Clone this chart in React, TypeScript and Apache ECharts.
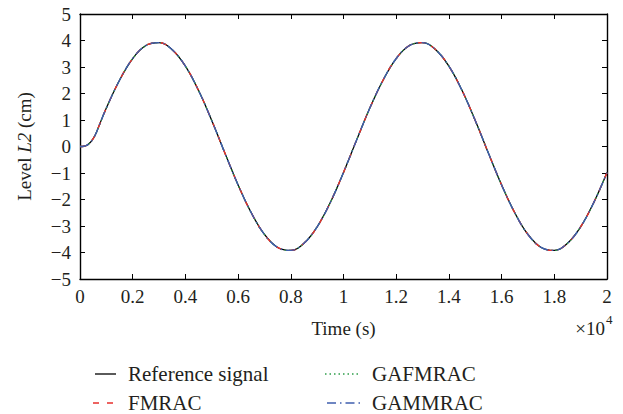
import React, { useEffect, useRef } from "react";
import * as echarts from "echarts";

// Time in units of 10^4 s
const timeTicks = [0, 0.2, 0.4, 0.6, 0.8, 1, 1.2, 1.4, 1.6, 1.8, 2];
const time = [
  0, 0.015, 0.03, 0.045, 0.06, 0.075, 0.1, 0.15, 0.2, 0.25, 0.3, 0.35, 0.4, 0.45,
  0.5, 0.55, 0.6, 0.65, 0.7, 0.75, 0.8, 0.85, 0.9, 0.95, 1.0, 1.05, 1.1, 1.15,
  1.2, 1.25, 1.3, 1.35, 1.4, 1.45, 1.5, 1.55, 1.6, 1.65, 1.7, 1.75, 1.8, 1.85,
  1.9, 1.95, 2.0,
];
const referenceSignal = [
  0, 0.01, 0.07, 0.22, 0.48, 0.85, 1.45, 2.5, 3.32, 3.81, 3.92, 3.65, 3.03, 2.11,
  0.98, -0.25, -1.45, -2.5, -3.32, -3.81, -3.92, -3.65, -3.03, -2.11, -0.98,
  0.25, 1.45, 2.5, 3.32, 3.81, 3.92, 3.65, 3.03, 2.11, 0.98, -0.25, -1.45, -2.5,
  -3.32, -3.81, -3.92, -3.65, -3.03, -2.11, -0.98,
];
const fmrac = [
  0, 0.01, 0.07, 0.22, 0.48, 0.85, 1.45, 2.5, 3.32, 3.81, 3.92, 3.65, 3.03, 2.11,
  0.98, -0.25, -1.45, -2.5, -3.32, -3.81, -3.92, -3.65, -3.03, -2.11, -0.98,
  0.25, 1.45, 2.5, 3.32, 3.81, 3.92, 3.65, 3.03, 2.11, 0.98, -0.25, -1.45, -2.5,
  -3.32, -3.81, -3.92, -3.65, -3.03, -2.11, -0.98,
];
const gafmrac = [
  0, 0.01, 0.07, 0.22, 0.48, 0.85, 1.45, 2.5, 3.32, 3.81, 3.92, 3.65, 3.03, 2.11,
  0.98, -0.25, -1.45, -2.5, -3.32, -3.81, -3.92, -3.65, -3.03, -2.11, -0.98,
  0.25, 1.45, 2.5, 3.32, 3.81, 3.92, 3.65, 3.03, 2.11, 0.98, -0.25, -1.45, -2.5,
  -3.32, -3.81, -3.92, -3.65, -3.03, -2.11, -0.98,
];
const gammrac = [
  0, 0.01, 0.07, 0.22, 0.48, 0.85, 1.45, 2.5, 3.32, 3.81, 3.92, 3.65, 3.03, 2.11,
  0.98, -0.25, -1.45, -2.5, -3.32, -3.81, -3.92, -3.65, -3.03, -2.11, -0.98,
  0.25, 1.45, 2.5, 3.32, 3.81, 3.92, 3.65, 3.03, 2.11, 0.98, -0.25, -1.45, -2.5,
  -3.32, -3.81, -3.92, -3.65, -3.03, -2.11, -0.98,
];
const seriesNames = ["Reference signal", "FMRAC", "GAFMRAC", "GAMMRAC"];

const FONT = "'Liberation Serif', 'DejaVu Serif', serif";
const TXT = "#231f20";
const COLORS = ["#000000", "#e8302e", "#2e9e4a", "#3f5fae"];
const DASHES: any[] = ["solid", [6, 8], [1.5, 3], [9, 4, 1.5, 4]];

const pair = (ys: number[]) => time.map((t, i) => [t, ys[i]]);

export default function App() {
  const ref = useRef<HTMLDivElement>(null);
  useEffect(() => {
    if (!ref.current) return;
    const chart = echarts.init(ref.current, undefined, { renderer: "svg" });
    const axisLine = { onZero: false, lineStyle: { color: "#000", width: 1.4 } };
    const tick = { show: true, inside: true, length: 5, lineStyle: { color: "#000", width: 1 } };

    // manual legend
    const legendItems = [
      { name: seriesNames[0], x1: 95, x2: 116, tx: 128, y: 374, c: 0 },
      { name: seriesNames[1], x1: 93, x2: 116, tx: 128, y: 403, c: 1 },
      { name: seriesNames[2], x1: 325, x2: 358, tx: 372, y: 374, c: 2 },
      { name: seriesNames[3], x1: 327, x2: 360, tx: 372, y: 403, c: 3 },
    ];
    const legendGraphics: any[] = [];
    legendItems.forEach((it) => {
      const d = DASHES[it.c];
      legendGraphics.push({
        type: "line",
        shape: { x1: it.x1, y1: it.y, x2: it.x2, y2: it.y },
        style: {
          stroke: COLORS[it.c],
          lineWidth: 1.3,
          lineDash: d === "solid" ? null : d,
        },
      });
      legendGraphics.push({
        type: "text",
        x: it.tx,
        y: it.y,
        style: {
          text: it.name,
          fill: TXT,
          font: `21px ${FONT}`,
          verticalAlign: "middle",
          align: "left",
        },
      });
    });

    chart.setOption({
      animation: false,
      backgroundColor: "#fff",
      textStyle: { fontFamily: FONT },
      grid: { left: 80, right: 16, top: 14, bottom: 135, containLabel: false },
      xAxis: [
        {
          type: "value",
          min: 0,
          max: 2,
          interval: 0.2,
          position: "bottom",
          axisLine,
          axisTick: tick,
          splitLine: { show: false },
          axisLabel: {
            color: TXT,
            fontSize: 19,
            fontFamily: FONT,
            margin: 8,
            formatter: (v: number) => String(+v.toFixed(1)),
          },
          name: "Time (s)",
          nameLocation: "middle",
          nameGap: 40,
          nameTextStyle: { color: TXT, fontSize: 19, fontFamily: FONT, verticalAlign: "top" },
        },
        {
          type: "value",
          min: 0,
          max: 2,
          interval: 0.2,
          position: "top",
          axisLine,
          axisTick: tick,
          splitLine: { show: false },
          axisLabel: { show: false },
        },
      ],
      yAxis: [
        {
          type: "value",
          min: -5,
          max: 5,
          interval: 1,
          position: "left",
          axisLine,
          axisTick: tick,
          splitLine: { show: false },
          axisLabel: {
            color: TXT,
            fontSize: 19,
            fontFamily: FONT,
            margin: 9,
            formatter: (v: number) => String(v).replace("-", "\u2212"),
          },
          name: "Level {i|L2} (cm)",
          nameLocation: "middle",
          nameGap: 46,
          nameTextStyle: {
            color: TXT,
            fontSize: 19,
            fontFamily: FONT,
            rich: { i: { fontStyle: "italic", fontSize: 19, fontFamily: FONT, color: TXT } },
          },
        },
        {
          type: "value",
          min: -5,
          max: 5,
          interval: 1,
          position: "right",
          axisLine,
          axisTick: tick,
          splitLine: { show: false },
          axisLabel: { show: false },
        },
      ],
      graphic: [
        {
          type: "text",
          x: 605,
          y: 328,
          style: { text: "\u00d710", fill: TXT, font: `19px ${FONT}`, align: "right", verticalAlign: "middle" },
        },
        {
          type: "text",
          x: 606,
          y: 319,
          style: { text: "4", fill: TXT, font: `13px ${FONT}`, align: "left", verticalAlign: "middle" },
        },
        ...legendGraphics,
      ],
      series: [
        { name: seriesNames[0], data: pair(referenceSignal), c: 0, w: 1.3 },
        { name: seriesNames[2], data: pair(gafmrac), c: 2, w: 1.3 },
        { name: seriesNames[1], data: pair(fmrac), c: 1, w: 1.4 },
        { name: seriesNames[3], data: pair(gammrac), c: 3, w: 1.4 },
      ].map((s) => ({
        name: s.name,
        type: "line",
        data: s.data,
        showSymbol: false,
        symbol: "none",
        smooth: 0.4,
        lineStyle: { color: COLORS[s.c], width: s.w, type: DASHES[s.c] },
        itemStyle: { color: COLORS[s.c] },
      })),
    });
    return () => chart.dispose();
  }, []);
  return <div ref={ref} style={{ width: 623, height: 414, position: "absolute", left: 0, top: 0 }} />;
}
